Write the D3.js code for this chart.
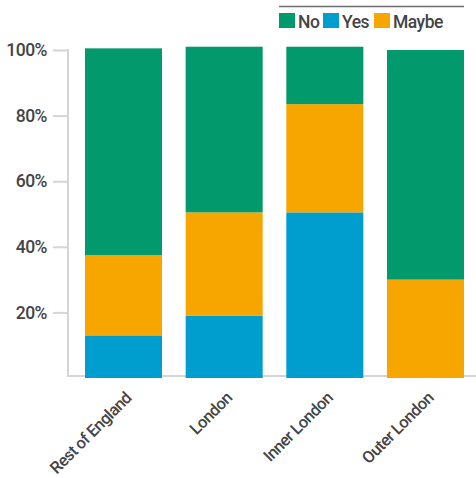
<!DOCTYPE html>
<html>
<head>
<meta charset="utf-8">
<script src="https://cdn.jsdelivr.net/npm/d3@7"></script>
<style>
  html, body { margin: 0; padding: 0; background: #fff; }
  svg { display: block; }
  text { font-family: Roboto, "DejaVu Sans", sans-serif; fill: #444; font-weight: 500; }
</style>
</head>
<body>
<svg id="chart" width="476" height="478"></svg>
<script>
const categories = ["Rest of England", "London", "Inner London", "Outer London"];
const seriesNames = ["Yes", "Maybe", "No"];
const yesValues   = [13, 19, 50.5, 0];
const maybeValues = [24.5, 31.5, 33, 30];
const noValues    = [63, 50.5, 17.5, 70];
const yTicks = [20, 40, 60, 80, 100];
const legendOrder = ["No", "Yes", "Maybe"];
const colors = { Yes: "#009dcf", Maybe: "#f7a600", No: "#02996c" };

const svg = d3.select("#chart");

const x = d3.scaleBand().domain(categories).range([85, 464]).paddingInner(0.235).paddingOuter(0);
const y = d3.scaleLinear().domain([0, 100]).range([378, 50]);

const rows = categories.map((c, i) => ({ cat: c, Yes: yesValues[i], Maybe: maybeValues[i], No: noValues[i] }));
const stacked = d3.stack().keys(seriesNames)(rows);

// axes
const axisColor = "#d5d5d5";
const yAxis = d3.axisLeft(y).tickValues(yTicks).tickFormat(d => d + "%").tickSize(15).tickPadding(6);
const gy = svg.append("g").attr("transform", "translate(68,0)").call(yAxis);
gy.select(".domain").remove();
gy.selectAll(".tick line").attr("stroke", axisColor).attr("stroke-width", 2);
gy.selectAll(".tick text").attr("font-size", 17.5).style("font-family", "Roboto, sans-serif").attr("fill", "#444").attr("font-weight", 500).attr("letter-spacing", -0.5);
svg.append("line").attr("x1", 68).attr("x2", 68).attr("y1", y(100) - 1).attr("y2", 377)
  .attr("stroke", axisColor).attr("stroke-width", 2);
svg.append("line").attr("x1", 67).attr("x2", 476).attr("y1", 376).attr("y2", 376)
  .attr("stroke", axisColor).attr("stroke-width", 2);

// bars
svg.append("g").selectAll("g").data(stacked).join("g")
  .attr("fill", d => colors[d.key])
  .selectAll("rect").data(d => d).join("rect")
  .attr("x", d => x(d.data.cat))
  .attr("width", x.bandwidth())
  .attr("y", d => y(d[1]))
  .attr("height", d => y(d[0]) - y(d[1]));

// x labels
svg.append("g").selectAll("text").data(categories).join("text")
  .attr("transform", d => `translate(${x(d) + x.bandwidth() / 2 + 9},399) rotate(-45)`)
  .attr("text-anchor", "end")
  .attr("font-size", 16.5)
  .attr("letter-spacing", -0.6)
  .text(d => d);

// legend
svg.append("line").attr("x1", 279).attr("x2", 464).attr("y1", 6.5).attr("y2", 6.5)
  .attr("stroke", "#6e6e6e").attr("stroke-width", 1.5);
const legendX = { No: 279, Yes: 323, Maybe: 374 };
const lg = svg.append("g").selectAll("g").data(legendOrder).join("g")
  .attr("transform", d => `translate(${legendX[d]},13)`);
lg.append("rect").attr("width", 16).attr("height", 15).attr("fill", d => colors[d]);
lg.append("text").attr("x", 19).attr("y", 15).attr("font-size", 17.5).attr("letter-spacing", -0.5).text(d => d);
</script>
</body>
</html>
